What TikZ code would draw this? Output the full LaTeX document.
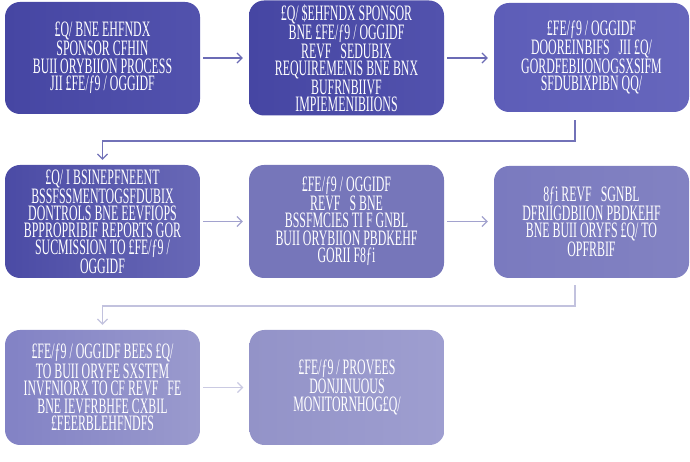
\documentclass[tikz,border=0pt]{standalone}
\usepackage{fontspec}
\newfontfamily\condfont[FakeStretch=0.54]{Liberation Serif}
\usetikzlibrary{arrows.meta}
\definecolor{ca}{HTML}{4646A3}
\definecolor{cb}{HTML}{5252AD}
\definecolor{cc}{HTML}{5D5DB8}
\definecolor{cd}{HTML}{6666BC}
\definecolor{ce}{HTML}{4B4BA5}
\definecolor{cf}{HTML}{6868B6}
\definecolor{cg}{HTML}{7676BA}
\definecolor{ch}{HTML}{9C9CD1}
\definecolor{ci}{HTML}{7A7ABF}
\definecolor{cj}{HTML}{8282C2}
\definecolor{ck}{HTML}{8282C5}
\definecolor{cl}{HTML}{9A9ACD}
\definecolor{cm}{HTML}{9393C8}
\definecolor{cn}{HTML}{9E9ED0}
\definecolor{ar1}{HTML}{6B6BB5}
\definecolor{ar2}{HTML}{7272B8}
\definecolor{ar3}{HTML}{A2A2CE}
\definecolor{ar4}{HTML}{C2C2DE}
\definecolor{ar5}{HTML}{CACAE2}
\newcommand{\gp}{\hspace{9pt}}
\tikzset{
  box/.style={rounded corners=15pt, minimum width=195pt, minimum height=112pt,
    text=white, align=center, inner sep=2pt,
    font=\condfont\fontsize{22}{17.5}\selectfont},
  boxtall/.style={box, font=\condfont\fontsize{22}{17}\selectfont},
  conn/.style={line width=1.2pt, -{Straight Barb[length=5pt,width=10pt]}}
}
\begin{document}
\begin{tikzpicture}[x=1pt,y=1pt]
\useasboundingbox (0,0) rectangle (690,462);
\node[box, left color=ca, right color=cb] (b1) at (102.5,404)
  {£Q/ BNE EHFNDX\\SPONSOR CFHIN\\BUII ORYBIION PROCESS\\JII £FE/ƒ9 / OGGIDF};
\node[boxtall, left color=ca, right color=cb, minimum height=115pt] (b2) at (346.5,404)
  {£Q/ \$EHFNDX SPONSOR\\BNE £FE/ƒ9 / OGGIDF\\REVF\gp SEDUBIX\\REQUIREMENIS BNE BNX\\BUFRNBIIVF\\IMPIEMENIBIIONS};
\node[box, left color=cc, right color=cd, minimum height=109pt] (b3) at (591.5,404.5)
  {£FE/ƒ9 / OGGIDF\\DOOREINBIFS\gp JII £Q/\\GORDFEBIIONOGSXSIFM\\SFDUBIXPIBN QQ/};
\node[boxtall, left color=ce, right color=cf, minimum height=113pt] (b4) at (102.5,240.5)
  {£Q/ I BSINEPFNEENT\\BSSFSSMENTOGSFDUBIX\\DONTROLS BNE EEVFIOPS\\BPPROPRIBIF REPORTS GOR\\SUCMISSION TO £FE/ƒ9 /\\OGGIDF};
\node[box, left color=cg, middle color=ch, right color=cg, minimum height=113pt] (b5) at (346.5,240.5)
  {£FE/ƒ9 / OGGIDF\\REVF\gp S BNE\\BSSFMCIES TI F GNBL\\BUII ORYBIION PBDKEHF\\GORII F8ƒi};
\node[box, left color=ci, right color=cj, minimum height=112pt] (b6) at (591.5,240)
  {8ƒi REVF\gp SGNBL\\DFRIIGDBIION PBDKEHF\\BNE BUII ORYFS £Q/ TO\\OPFRBIF};
\node[box, left color=ck, right color=cl, minimum height=115pt] (b7) at (102.5,74.5)
  {£FE/ƒ9 / OGGIDF BEES £Q/\\TO BUII ORYFE SXSTFM\\INVFNIORX TO CF REVF\gp FE\\BNE IEVFRBHFE CXBIL\\£FEERBLEHFNDFS};
\node[box, left color=cm, right color=cn, minimum height=115pt] (b8) at (347,74.5)
  {£FE/ƒ9 / PROVEES\\DONJINUOUS\\MONITORNHOG£Q/};
\coordinate (t1) at (575,321);
\coordinate (t2) at (575,156);
\draw[conn, ar1, shorten <=3pt, shorten >=6pt] (b1.east) -- (b2.west |- b1.east);
\draw[conn, ar1, shorten <=3pt, shorten >=6pt] (b2.east |- b1.east) -- (b3.west |- b1.east);
\draw[conn, ar2, shorten <=8pt, shorten >=5pt] (b3.south -| t1) -- (t1) -| (b4.north);
\draw[conn, ar3, shorten <=3pt, shorten >=6pt] (b4.east) -- (b5.west);
\draw[conn, ar3, shorten <=3pt, shorten >=6pt] (b5.east) -- (b6.west |- b5.east);
\draw[conn, ar4, shorten <=7pt, shorten >=5pt] (b6.south -| t2) -- (t2) -| (b7.north);
\draw[conn, ar5, shorten <=3pt, shorten >=6pt] (b7.east) -- (b8.west);
\end{tikzpicture}
\end{document}
